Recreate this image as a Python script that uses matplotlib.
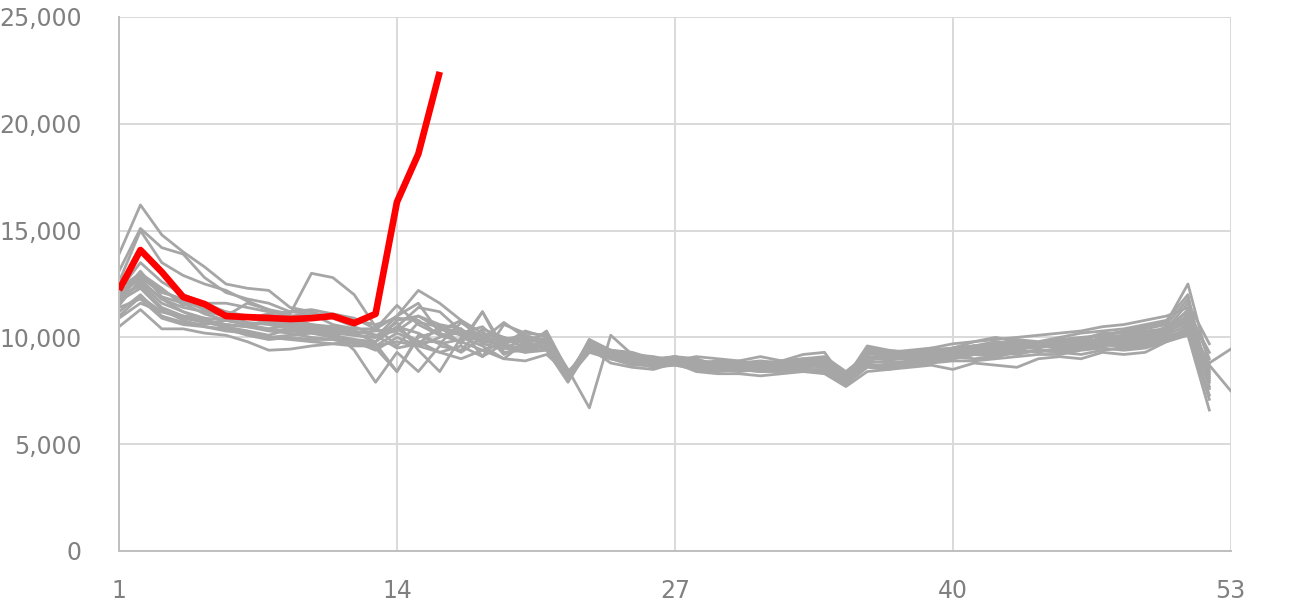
import matplotlib.pyplot as plt
from matplotlib.ticker import FuncFormatter

# weekly values, one list per earlier year (gray) and the current year (red)
s01 = [13900, 16200, 14800, 14000, 13300, 12500, 12300, 12200, 11400, 11200, 10900, 10500, 10100, 10300, 11000, 10400, 10100, 9800, 9700, 10000, 9900, 8100, 9700, 9400, 9200, 9000, 9000, 8900, 8800, 8700, 8800, 8900, 9000, 9100, 8400, 9200, 9300, 9400, 9500, 9700, 9800, 9900, 10000, 10100, 10200, 10300, 10500, 10600, 10800, 11000, 11400, 9000]
s02 = [13100, 15100, 14200, 13900, 12800, 12100, 11800, 11600, 11200, 11300, 11100, 10900, 10400, 11000, 12200, 11600, 10800, 10200, 9900, 10000, 9800, 8200, 9800, 9300, 9100, 8900, 9100, 9000, 8700, 8800, 8900, 8800, 9000, 9000, 8000, 9400, 9300, 9200, 9400, 9500, 9600, 9700, 9900, 9800, 10000, 10200, 10300, 10400, 10600, 10800, 12000, 7600]
s03 = [12600, 15000, 13500, 12900, 12500, 12200, 11700, 11300, 10900, 10600, 10400, 10200, 9800, 10500, 11400, 11200, 10300, 10100, 10000, 9700, 9600, 8000, 9500, 9200, 9100, 8900, 8900, 8700, 8600, 8700, 8600, 8700, 8800, 8900, 8100, 9600, 9400, 9300, 9300, 9500, 9800, 10000, 9800, 9700, 9900, 10000, 10100, 10300, 10500, 10700, 12500, 8700]
s04 = [11500, 12700, 11800, 11400, 11200, 11000, 11600, 11300, 11100, 13000, 12800, 12000, 10500, 9600, 10700, 10500, 9700, 11200, 9500, 9300, 9600, 8300, 9700, 9400, 9300, 9000, 8900, 9100, 9000, 8900, 9100, 8900, 9200, 9300, 7900, 9000, 9200, 9300, 9500, 9400, 9600, 9500, 9800, 9700, 9600, 9800, 10200, 10000, 10100, 10500, 11200, 9300]
s05 = [11000, 11900, 11200, 10900, 10700, 10500, 10300, 10100, 10400, 10300, 10000, 9800, 9600, 10200, 9800, 9300, 9600, 9100, 10600, 10200, 10100, 8500, 6700, 10100, 9200, 9000, 9100, 8800, 8700, 8900, 8600, 8700, 8900, 8800, 8200, 9300, 9000, 9100, 9200, 9300, 9400, 9300, 9500, 9600, 9700, 9600, 9900, 9800, 10000, 10200, 10900, 8200]
s06 = [10500, 11300, 10400, 10400, 10200, 10100, 9800, 9400, 9450, 9600, 9700, 9800, 9400, 10000, 9600, 9300, 9000, 9400, 9700, 9300, 9400, 7900, 9500, 8800, 8600, 8500, 8800, 8400, 8300, 8300, 8200, 8300, 8400, 8300, 7700, 8400, 8500, 8600, 8700, 8500, 8800, 8700, 8600, 9000, 9100, 9000, 9300, 9200, 9300, 9800, 10100, 6600]
s07 = [11800, 12500, 11600, 11200, 10800, 10600, 10500, 10300, 10200, 10000, 9900, 9800, 9700, 8400, 10100, 9700, 9900, 10300, 9200, 9700, 9400, 8100, 9300, 9000, 8900, 8800, 8800, 8600, 8500, 8600, 8500, 8500, 8600, 8700, 7900, 8800, 8900, 8800, 9100, 9200, 9300, 9200, 9400, 9300, 9500, 9600, 9700, 9500, 9700, 10000, 10400, 8800, 9450]
s08 = [12100, 12900, 12200, 11700, 11300, 11000, 10700, 10600, 10400, 10300, 10200, 10100, 10000, 10700, 9400, 8400, 10000, 9600, 9000, 9800, 9500, 8200, 9400, 9100, 9000, 8900, 9000, 8900, 8800, 8800, 8700, 8900, 8800, 8900, 8100, 9300, 9100, 9200, 9300, 9400, 9400, 9500, 9600, 9500, 9700, 9800, 9900, 10000, 10100, 10300, 10700, 8700, 7500]
s09 = [11900, 13100, 11900, 11600, 11100, 10800, 10600, 10700, 10600, 10500, 10300, 9400, 7900, 9300, 8400, 9600, 9400, 10400, 10000, 9500, 9600, 8000, 9800, 9300, 9100, 8800, 8700, 8600, 8500, 8500, 8400, 8500, 8600, 8700, 7800, 8900, 8800, 8900, 9100, 9000, 9200, 9300, 9200, 9400, 9300, 9500, 9700, 9600, 9800, 10100, 10600, 7900]
s10 = [12300, 13000, 12300, 11500, 11600, 11600, 11400, 11200, 11000, 11100, 10600, 10400, 10400, 11500, 10600, 10100, 9800, 9400, 9000, 8900, 9200, 8300, 9600, 9200, 9000, 8900, 9100, 8900, 8700, 8700, 8800, 8800, 8900, 9000, 8300, 9300, 9200, 9100, 9200, 9300, 9500, 9600, 9700, 9600, 9800, 9700, 10000, 10100, 10300, 10400, 11000, 8400]
s11 = [11200, 12000, 11000, 10700, 10600, 10800, 10900, 11100, 11200, 11100, 11000, 10800, 10600, 10900, 10800, 10100, 10200, 10500, 9600, 9500, 9800, 8100, 9900, 9400, 9200, 9100, 8900, 8800, 8900, 8800, 8700, 8800, 8800, 8600, 8000, 9100, 9000, 9000, 9200, 9100, 9300, 9400, 9500, 9600, 9800, 9700, 9800, 9700, 9900, 10200, 10800, 8100]
s12 = [11700, 12300, 11300, 10800, 10500, 10300, 10200, 10000, 10100, 10200, 10100, 9900, 9500, 8400, 10000, 10300, 10800, 9800, 9900, 10100, 9800, 8200, 9700, 9100, 8800, 8700, 8900, 8800, 8600, 8600, 8500, 8600, 8700, 8600, 7900, 8700, 8600, 8800, 9000, 9100, 9000, 9100, 9300, 9400, 9300, 9200, 9400, 9500, 9600, 9900, 10300, 7300]
s13 = [12500, 12600, 11800, 11200, 10900, 10400, 10300, 10000, 9900, 9800, 9700, 9600, 9600, 9800, 9600, 10000, 10400, 9700, 9500, 9600, 10300, 8400, 9400, 9000, 8800, 8600, 8700, 8500, 8400, 8500, 8400, 8400, 8500, 8500, 7800, 8600, 8500, 8700, 8800, 8900, 8900, 9000, 9100, 9200, 9200, 9400, 9500, 9400, 9500, 9800, 10200, 7100]
s14 = [10900, 11600, 11200, 11000, 10900, 10800, 10600, 10400, 10300, 10200, 10000, 9900, 9800, 10800, 11000, 10600, 10400, 9100, 9700, 10300, 10000, 8000, 9900, 9200, 9000, 9000, 8900, 8900, 8700, 8700, 8800, 8700, 8700, 8800, 8100, 9000, 9000, 9100, 9100, 9200, 9300, 9400, 9400, 9600, 9500, 9600, 9600, 9800, 9900, 10100, 11100, 8500]
s15 = [12000, 12400, 11400, 11000, 10800, 10600, 10500, 10400, 10600, 10400, 10300, 10100, 10000, 11000, 11600, 10200, 9800, 11200, 9300, 9400, 9600, 8100, 9600, 9300, 9100, 8800, 8900, 8700, 8800, 8600, 8700, 8700, 8800, 8900, 8000, 9200, 9300, 9200, 9300, 9400, 9600, 9700, 9600, 9700, 9800, 9900, 10100, 10000, 10200, 10400, 11600, 9700]
s16 = [11400, 11800, 10900, 10600, 10500, 10400, 10100, 9900, 10000, 9900, 9900, 9700, 9800, 10500, 10200, 9700, 10700, 10000, 9500, 9900, 9700, 8300, 9500, 9000, 8700, 8700, 8800, 8600, 8500, 8400, 8500, 8600, 8500, 8400, 7800, 8700, 8700, 8800, 8900, 9000, 9200, 9100, 9300, 9400, 9400, 9500, 9600, 9700, 9800, 9900, 10500, 7700]
s17 = [11900, 12800, 12100, 11800, 11400, 11200, 11000, 10800, 10700, 10600, 10500, 10300, 10100, 9500, 9700, 10500, 10200, 9900, 10700, 10000, 9800, 8100, 9800, 9200, 9000, 8900, 9000, 8800, 8700, 8700, 8600, 8700, 8800, 8800, 8200, 9300, 9100, 9000, 9200, 9400, 9500, 9600, 9500, 9600, 9700, 9800, 9900, 9900, 10000, 10300, 11300, 8300]
s18 = [12200, 13500, 12600, 12000, 11600, 11200, 10900, 10700, 10500, 10400, 10400, 10200, 10300, 10400, 9800, 9800, 9300, 10000, 9800, 9800, 10200, 8300, 9600, 9200, 9000, 8900, 8800, 8700, 8600, 8700, 8700, 8600, 8700, 8800, 8100, 9500, 9300, 9300, 9400, 9500, 9600, 9800, 9700, 9600, 9800, 9900, 10200, 10200, 10400, 10600, 11800, 8000]
gray_series = [s01, s02, s03, s04, s05, s06, s07, s08, s09, s10,
               s11, s12, s13, s14, s15, s16, s17, s18]

current = [12220, 14090, 13060, 11890, 11560, 11000, 10950, 10910, 10860, 10900,
           11000, 10670, 11100, 16340, 18590, 22430]

x_ticks = [1, 14, 27, 40, 53]
y_ticks = [0, 5000, 10000, 15000, 20000, 25000]

fig = plt.figure(figsize=(13.14, 6.11), dpi=100)
ax = fig.add_axes([0.0906, 0.0982, 0.846, 0.874])

for s in gray_series:
    weeks = range(1, len(s) + 1)
    ax.plot(weeks, s, color="#A6A6A6", linewidth=2.0)

ax.plot(range(1, len(current) + 1), current, color="#FF0000", linewidth=4.8,
        solid_joinstyle="round", solid_capstyle="butt", zorder=5)

ax.set_xlim(1, 53)
ax.set_ylim(0, 25000)
ax.set_xticks(x_ticks)
ax.set_yticks(y_ticks)
ax.yaxis.set_major_formatter(FuncFormatter(lambda v, p: f"{int(v):,}"))

ax.grid(True, color="#D9D9D9", linewidth=1.4)
ax.set_axisbelow(True)
for side in ["top", "right"]:
    ax.spines[side].set_visible(False)
for side in ["left", "bottom"]:
    ax.spines[side].set_color("#BFBFBF")
    ax.spines[side].set_linewidth(1.4)

ax.tick_params(axis="both", length=0, colors="#808080", labelsize=17)
ax.tick_params(axis="y", pad=27)
ax.tick_params(axis="x", pad=20)

fig.savefig("out.png", dpi=100)
